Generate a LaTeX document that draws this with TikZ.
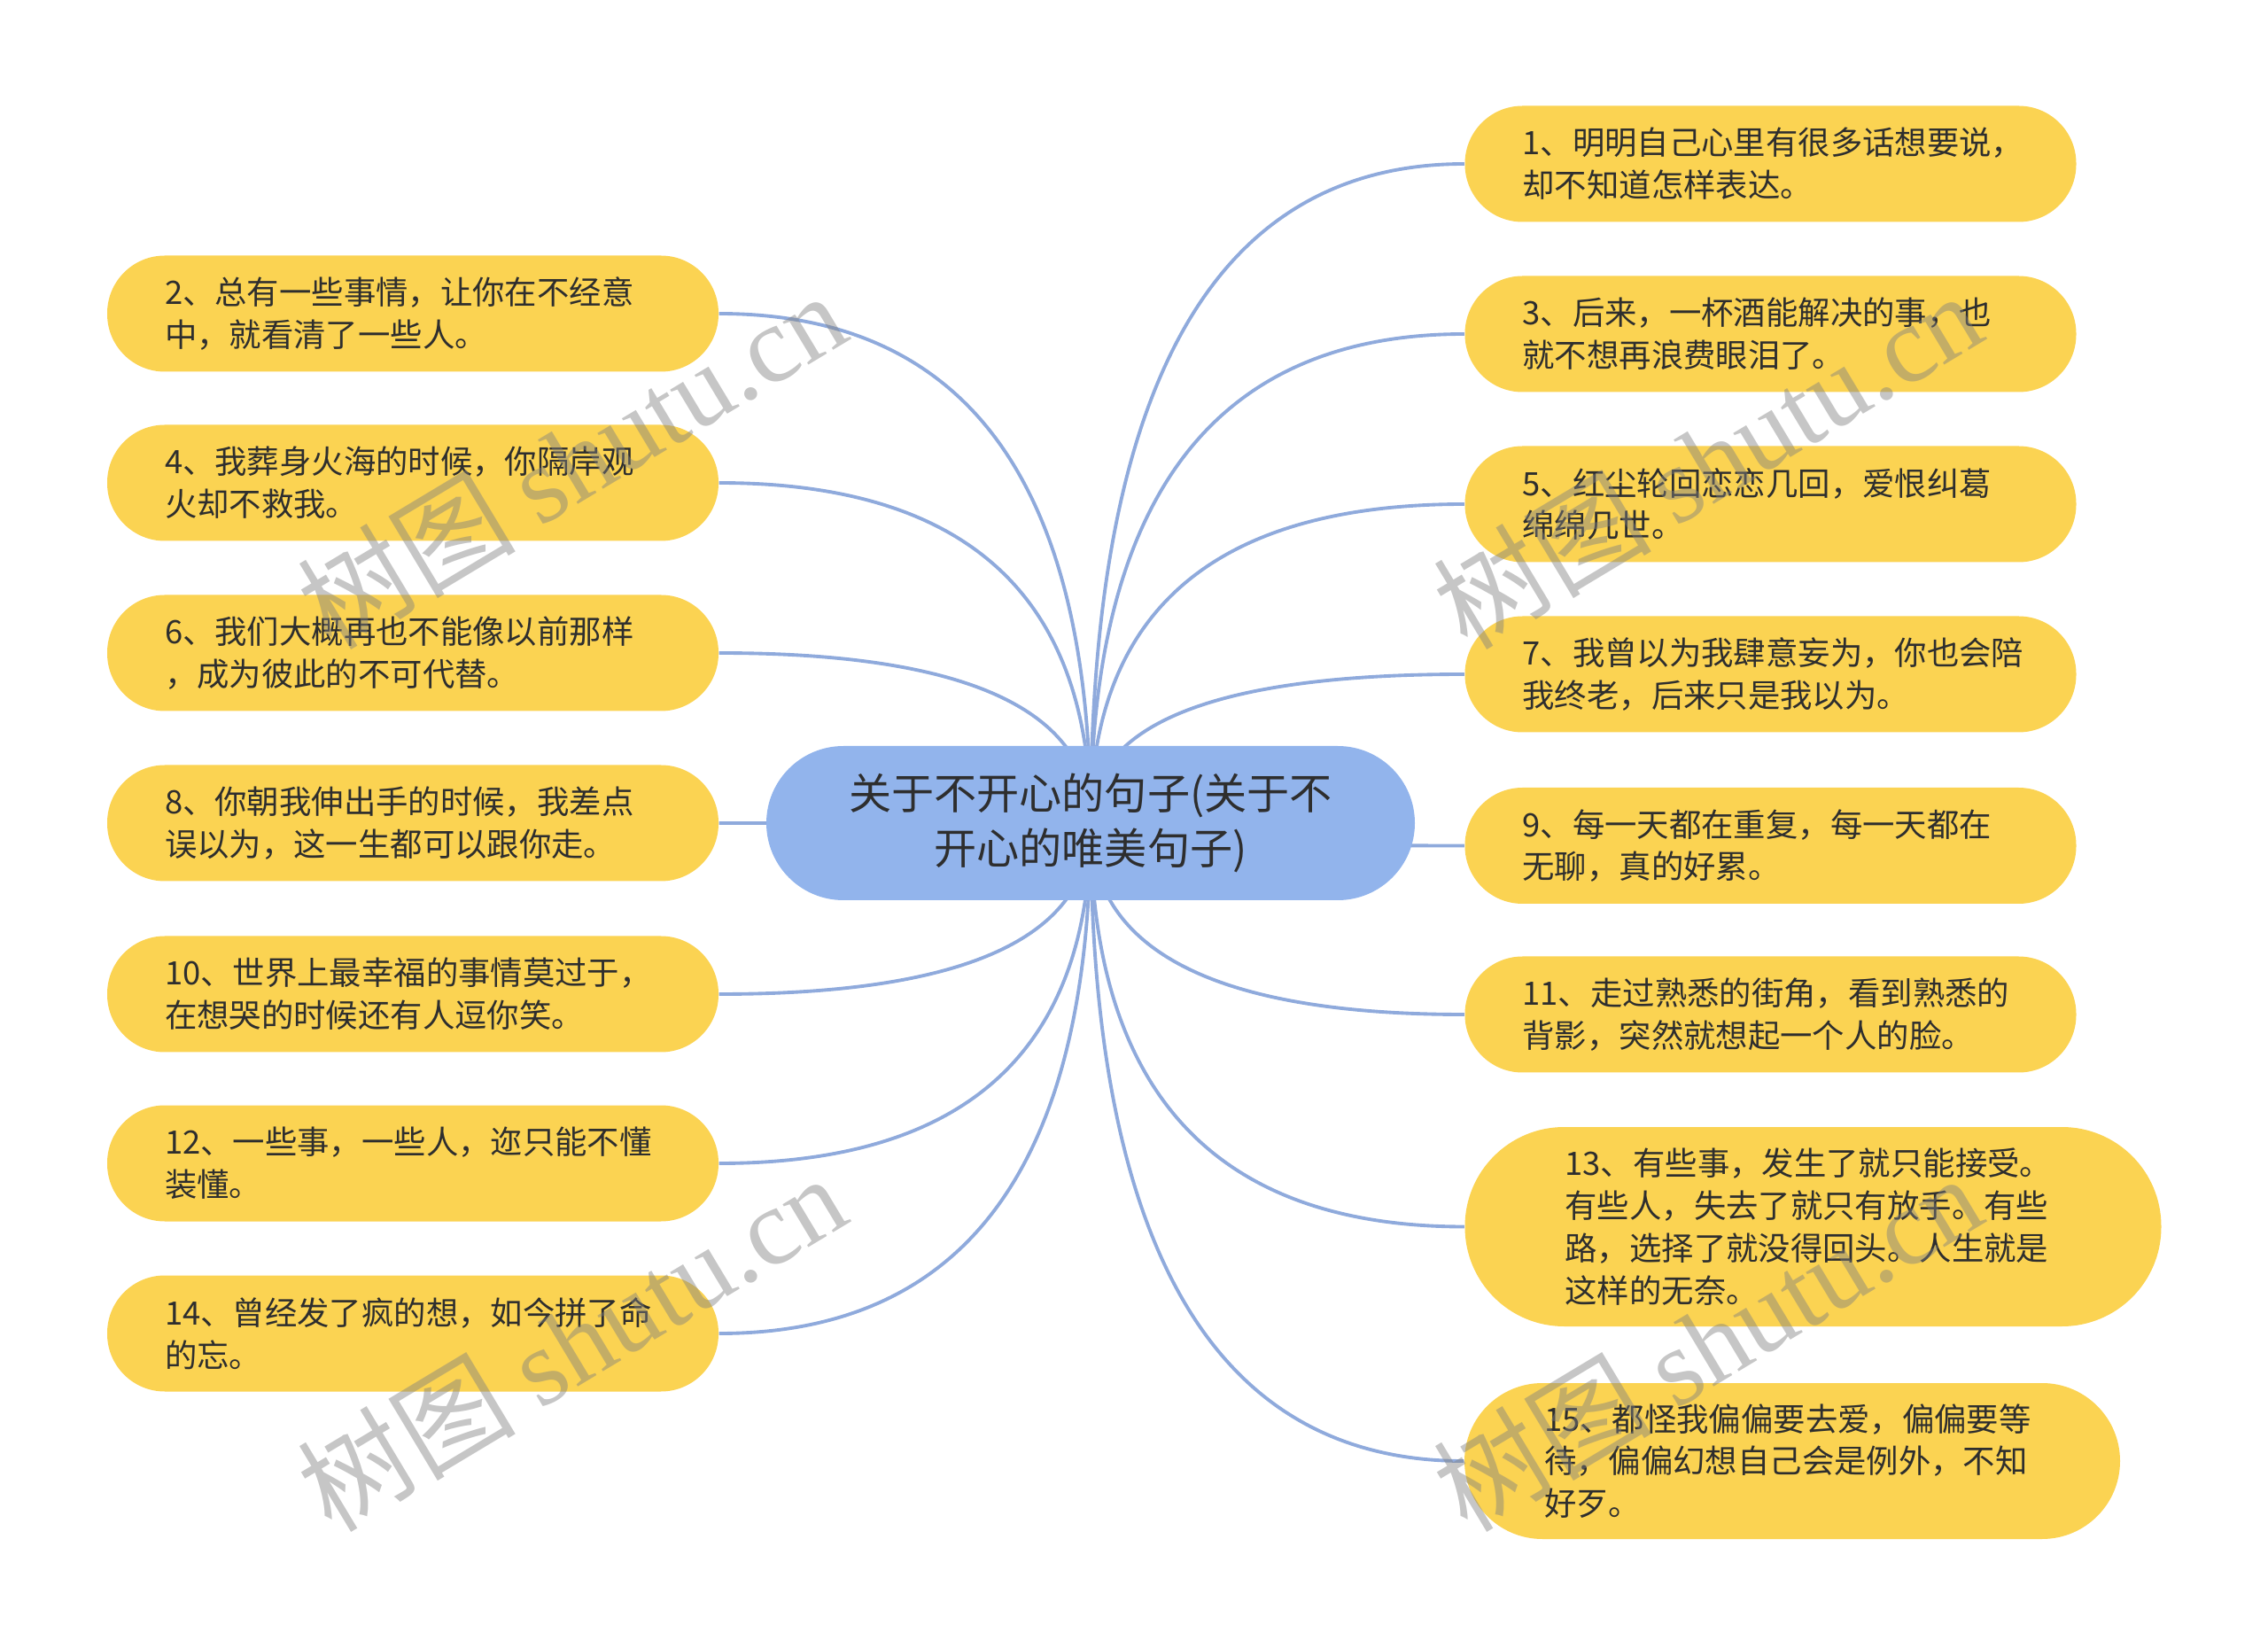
\documentclass[tikz,border=0pt]{standalone}
\usepackage{fontspec}
\setmainfont{Noto Sans CJK SC}
\newfontfamily\wmserif{Liberation Serif}
\usetikzlibrary{calc,backgrounds}
\definecolor{leafyellow}{HTML}{FBD352}
\definecolor{rootblue}{HTML}{92B4EC}
\definecolor{branchblue}{HTML}{8FAADC}
\definecolor{ink}{HTML}{2E2E2E}
\tikzset{
  leaf/.style={rounded corners=6.5mm,fill=leafyellow,text=ink,inner xsep=6.5mm,inner ysep=0pt,align=left,
    font=\fontsize{10.35pt}{13.6pt}\selectfont,text width=5.6cm,minimum height=13.1mm},
  branch/.style={branchblue,line width=1.1pt},
}

\begin{document}
\begin{tikzpicture}
\tikzset{
  root/.style={rounded corners=8.7mm,fill=rootblue,text=ink,align=center,inner sep=0pt,
    font=\fontsize{13.7pt}{17.6pt}\selectfont,minimum width=73.2mm,minimum height=17.4mm},
  stamp/.style={rotate=31,text=gray,opacity=0.45,font=\fontsize{35pt}{35pt}\selectfont},
}
\useasboundingbox (0,0) rectangle (25.6,-18.6);
\node[root] (root) at (12.31,-9.29) {关于不开心的句子(关于不\\开心的唯美句子)};
% left side
\node[leaf] (n2)  at (4.66,-3.54)  {2、总有一些事情，让你在不经意\\中，就看清了一些人。};
\node[leaf] (n4)  at (4.66,-5.45)  {4、我葬身火海的时候，你隔岸观\\火却不救我。};
\node[leaf] (n6)  at (4.66,-7.37)  {6、我们大概再也不能像以前那样\\，成为彼此的不可代替。};
\node[leaf] (n8)  at (4.66,-9.29)  {8、你朝我伸出手的时候，我差点\\误以为，这一生都可以跟你走。};
\node[leaf] (n10) at (4.66,-11.22) {10、世界上最幸福的事情莫过于，\\在想哭的时候还有人逗你笑。};
\node[leaf] (n12) at (4.66,-13.13) {12、一些事，一些人，迩只能不懂\\装懂。};
\node[leaf] (n14) at (4.66,-15.05) {14、曾经发了疯的想，如今拼了命\\的忘。};
% right side
\node[leaf] (n1)  at (19.985,-1.85)  {1、明明自己心里有很多话想要说，\\却不知道怎样表达。};
\node[leaf] (n3)  at (19.985,-3.77)  {3、后来，一杯酒能解决的事，也\\就不想再浪费眼泪了。};
\node[leaf] (n5)  at (19.985,-5.69)  {5、红尘轮回恋恋几回，爱恨纠葛\\绵绵几世。};
\node[leaf] (n7)  at (19.985,-7.61)  {7、我曾以为我肆意妄为，你也会陪\\我终老，后来只是我以为。};
\node[leaf] (n9)  at (19.985,-9.545) {9、每一天都在重复，每一天都在\\无聊，真的好累。};
\node[leaf] (n11) at (19.985,-11.45) {11、走过熟悉的街角，看到熟悉的\\背影，突然就想起一个人的脸。};
\node[leaf,inner xsep=11.3mm,text width=5.6cm,minimum height=22.5mm,rounded corners=11.2mm] (n13) at (20.465,-13.845)
  {13、有些事，发生了就只能接受。\\有些人，失去了就只有放手。有些\\路，选择了就没得回头。人生就是\\这样的无奈。};
\node[leaf,inner xsep=9mm,text width=5.6cm,minimum height=17.6mm,rounded corners=8.8mm] (n15) at (20.23,-16.49)
  {15、都怪我偏偏要去爱，偏偏要等\\待，偏偏幻想自己会是例外，不知\\好歹。};
% branches
\begin{scope}[on background layer]
\foreach \n/\s in {n2/east,n4/east,n6/east,n8/east,n10/east,n12/east,n14/east,
                   n1/west,n3/west,n5/west,n7/west,n9/west,n11/west,n13/west,n15/west}
  \draw[branch] (root.center) .. controls ($(root.center)!2/3!(root.center |- \n.\s)$)
    and ($(\n.\s)!2/3!(root.center |- \n.\s)$) .. (\n.\s);
\end{scope}
% watermarks
\node[stamp] (wm1) at (6.45,-5.19)   {树图 {\wmserif shutu.cn}};
\node[stamp] (wm2) at (6.45,-15.15)  {树图 {\wmserif shutu.cn}};
\node[stamp] (wm3) at (19.27,-5.19)  {树图 {\wmserif shutu.cn}};
\node[stamp] (wm4) at (19.27,-15.15) {树图 {\wmserif shutu.cn}};
\end{tikzpicture}
\end{document}
